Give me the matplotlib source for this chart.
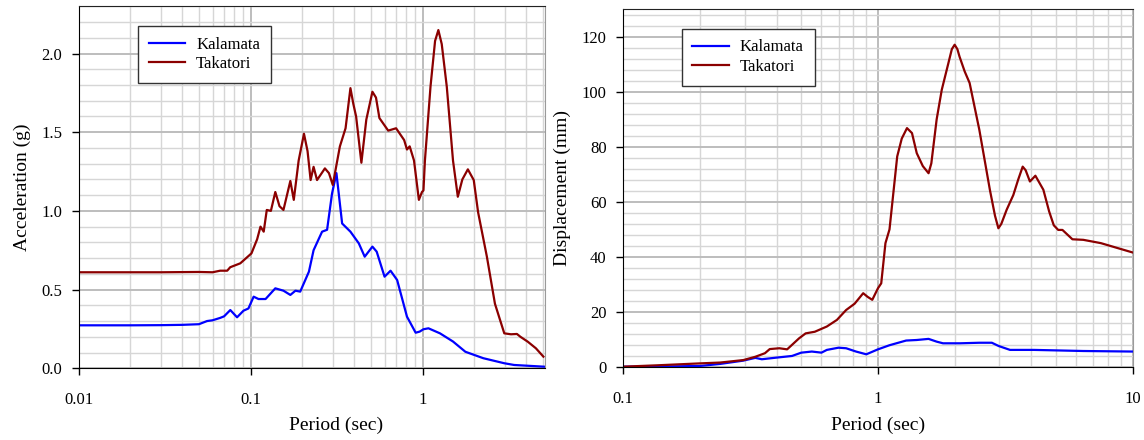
import matplotlib
matplotlib.use("Agg")
import matplotlib.pyplot as plt
from matplotlib.ticker import FixedLocator, LogLocator, MultipleLocator, FuncFormatter, NullFormatter

plt.rcParams['font.family'] = ['Liberation Serif', 'DejaVu Serif']

# Acceleration spectra (period in sec, acceleration in g)
acc_kal_T = [0.01, 0.02, 0.03, 0.04, 0.05, 0.0557, 0.06, 0.0664, 0.07, 0.0761, 0.0833, 0.0908,
             0.097, 0.104, 0.111, 0.122, 0.139, 0.155, 0.170, 0.182, 0.194, 0.218, 0.232,
             0.26, 0.278, 0.297, 0.315, 0.34, 0.38, 0.425, 0.46, 0.51, 0.54, 0.60,
             0.65, 0.71, 0.81, 0.91, 0.96, 1.01, 1.08, 1.26, 1.5, 1.77, 2.25, 2.98, 3.4, 5.1]
acc_kal = [0.273, 0.273, 0.274, 0.276, 0.28, 0.30, 0.305, 0.32, 0.33, 0.37, 0.324, 0.366,
           0.38, 0.455, 0.44, 0.44, 0.508, 0.493, 0.466, 0.493, 0.487, 0.614, 0.75,
           0.868, 0.88, 1.11, 1.24, 0.92, 0.868, 0.794, 0.709, 0.773, 0.741, 0.582,
           0.62, 0.561, 0.328, 0.226, 0.233, 0.248, 0.254, 0.222, 0.17, 0.105, 0.064, 0.032, 0.021, 0.01]

acc_tak_T = [0.01, 0.03, 0.05, 0.06, 0.0664, 0.073, 0.076, 0.087, 0.101, 0.109, 0.114,
             0.119, 0.124, 0.131, 0.139, 0.147, 0.155, 0.170, 0.178, 0.19, 0.204, 0.214, 0.223,
             0.232, 0.243, 0.27, 0.285, 0.30, 0.33, 0.356, 0.38, 0.395, 0.41, 0.44, 0.47,
             0.51, 0.535, 0.56, 0.63, 0.70, 0.78, 0.81, 0.84, 0.89, 0.95, 0.99, 1.01, 1.03,
             1.11, 1.18, 1.233, 1.29, 1.38, 1.50, 1.60, 1.70, 1.83, 1.98, 2.10, 2.36, 2.63,
             2.98, 3.26, 3.53, 3.7, 4.08, 4.55, 5.03]
acc_tak = [0.61, 0.61, 0.612, 0.61, 0.62, 0.62, 0.642, 0.667, 0.73, 0.82, 0.90,
           0.868, 1.006, 1.0, 1.12, 1.03, 1.006, 1.19, 1.07, 1.32, 1.49, 1.38, 1.196,
           1.28, 1.196, 1.27, 1.24, 1.165, 1.41, 1.525, 1.78, 1.68, 1.6, 1.306, 1.58,
           1.757, 1.72, 1.59, 1.51, 1.525, 1.45, 1.39, 1.41, 1.32, 1.07, 1.12, 1.13, 1.32,
           1.79, 2.08, 2.149, 2.06, 1.79, 1.32, 1.09, 1.2, 1.264, 1.196, 0.99, 0.71, 0.41,
           0.222, 0.216, 0.218, 0.20, 0.169, 0.127, 0.074]

# Displacement spectra (period in sec, displacement in mm)
dis_kal_T = [0.1, 0.15, 0.2, 0.24, 0.296, 0.33, 0.35, 0.4, 0.46, 0.5, 0.55, 0.6, 0.63, 0.7,
             0.75, 0.82, 0.9, 1.0, 1.11, 1.29, 1.42, 1.58, 1.7, 1.8, 2.1, 2.5, 2.8, 2.98, 3.3,
             4.1, 6.4, 10]
dis_kal = [0.1, 0.2, 0.36, 1.1, 2.3, 3.3, 2.8, 3.4, 4.0, 5.2, 5.6, 5.2, 6.2, 7.0,
           6.8, 5.6, 4.6, 6.4, 7.9, 9.6, 9.8, 10.2, 9.2, 8.6, 8.6, 8.8, 8.8, 7.6, 6.2,
           6.2, 5.8, 5.6]

dis_tak_T = [0.1, 0.136, 0.2, 0.24, 0.296, 0.33, 0.36, 0.376, 0.41, 0.44, 0.49, 0.52, 0.565,
             0.63, 0.69, 0.75, 0.81, 0.875, 0.91, 0.95, 1.0, 1.03, 1.07, 1.11, 1.19, 1.24,
             1.30, 1.36, 1.42, 1.5, 1.58, 1.62, 1.70, 1.78, 1.89, 1.95, 2.0, 2.05, 2.09, 2.19,
             2.29, 2.5, 2.75, 2.88, 2.97, 3.05, 3.2, 3.4, 3.55, 3.7, 3.8, 3.95, 4.15, 4.46,
             4.7, 4.9, 5.1, 5.3, 5.8, 6.4, 7.5, 10]
dis_tak = [0.1, 0.6, 1.3, 1.6, 2.5, 3.7, 5.0, 6.5, 6.8, 6.4, 10.4, 12.2, 12.8,
           14.7, 17.1, 20.7, 23.0, 26.8, 25.5, 24.4, 28.6, 30.4, 45.0, 50.0, 76.5, 83.0,
           86.8, 85.0, 77.7, 73.0, 70.4, 74.0, 90.0, 100.7, 110.4, 115.5, 117.1, 115.5, 112.8, 107.4,
           103.2, 86.2, 64.4, 55.0, 50.4, 52.0, 57.1, 62.5, 68.0, 72.8, 71.5, 67.4, 69.5, 64.4,
           56.5, 51.5, 49.8, 49.8, 46.4, 46.2, 45.0, 41.6]

BLUE = '#0000FF'
RED = '#8B0000'

fig = plt.figure(figsize=(11.44, 4.4), dpi=100)
ax1 = fig.add_axes([0.0688, 0.163, 0.4076, 0.8227])
ax2 = fig.add_axes([0.5448, 0.166, 0.4453, 0.813])


def style_axes(ax, xticks, ymajor, yminor, yfmt):
    ax.set_xscale('log')
    ax.set_axisbelow(True)
    ax.xaxis.set_major_locator(FixedLocator(xticks))
    ax.xaxis.set_major_formatter(FuncFormatter(lambda v, p: '%g' % v))
    ax.xaxis.set_minor_locator(LogLocator(base=10, subs=range(2, 10), numticks=20))
    ax.xaxis.set_minor_formatter(NullFormatter())
    ax.yaxis.set_major_locator(MultipleLocator(ymajor))
    ax.yaxis.set_minor_locator(MultipleLocator(yminor))
    ax.yaxis.set_major_formatter(FuncFormatter(lambda v, p: yfmt % v))
    ax.grid(which='major', color='#BDBDBD', lw=1.4)
    ax.grid(which='minor', color='#D6D6D6', lw=1.0)
    ax.tick_params(which='major', direction='out', length=5, width=1, labelsize=12)
    ax.tick_params(axis='x', pad=12)
    ax.tick_params(axis='y', pad=7)
    ax.tick_params(which='minor', length=0)
    for s in ('left', 'bottom'):
        ax.spines[s].set_color('black')
    ax.spines['top'].set_color('#222222')
    ax.spines['right'].set_color('#9A9A9A')


def add_legend(ax, anchor):
    leg = ax.legend(loc='upper left', bbox_to_anchor=anchor, borderaxespad=0,
                    fontsize=12, fancybox=False, edgecolor='#333333', framealpha=1,
                    handlelength=2.2, handletextpad=0.65, borderpad=0.65,
                    labelspacing=0.2)
    leg.get_frame().set_linewidth(1.0)
    return leg


# Left: acceleration spectra
ax1.plot(acc_kal_T, acc_kal, color=BLUE, lw=1.6, label='Kalamata')
ax1.plot(acc_tak_T, acc_tak, color=RED, lw=1.6, label='Takatori')
style_axes(ax1, [0.01, 0.1, 1], 0.5, 0.1, '%.1f')
ax1.set_xlim(0.01, 5.14)
ax1.set_ylim(0, 2.3)
ax1.set_xlabel('Period (sec)', fontsize=14)
ax1.set_ylabel('Acceleration (g)', fontsize=14)
ax1.xaxis.set_label_coords(0.552, -0.135)
ax1.yaxis.set_label_coords(-0.103, 0.5)
add_legend(ax1, (0.1265, 0.9456))

# Right: displacement spectra
ax2.plot(dis_kal_T, dis_kal, color=BLUE, lw=1.6, label='Kalamata')
ax2.plot(dis_tak_T, dis_tak, color=RED, lw=1.6, label='Takatori')
style_axes(ax2, [0.1, 1, 10], 20, 4, '%d')
ax2.set_xlim(0.1, 10)
ax2.set_ylim(0, 130)
ax2.set_xlabel('Period (sec)', fontsize=14)
ax2.set_ylabel('Displacement (mm)', fontsize=14)
ax2.xaxis.set_label_coords(0.5, -0.14)
ax2.yaxis.set_label_coords(-0.103, 0.5)
add_legend(ax2, (0.1146, 0.9458))

fig.savefig('out.png', dpi=100)
